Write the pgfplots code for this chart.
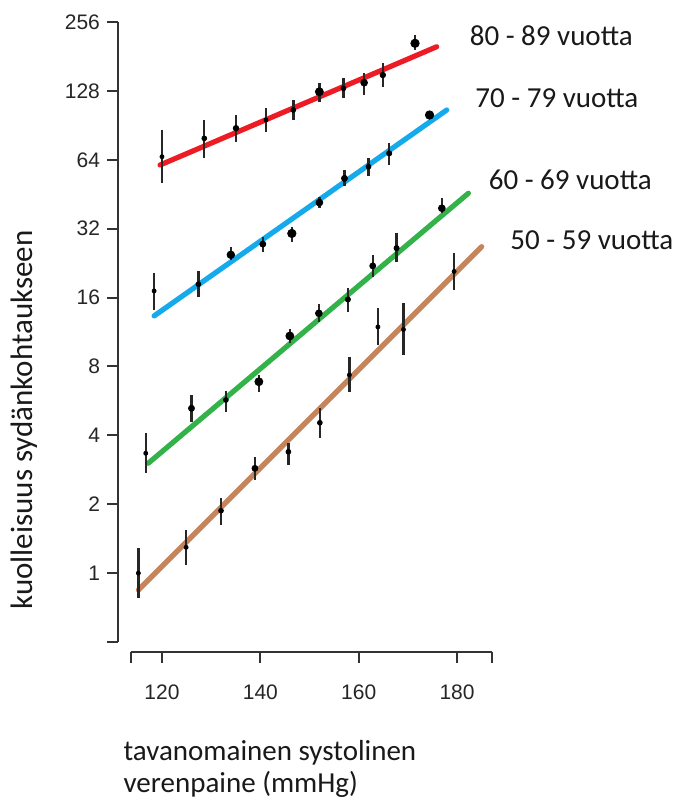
\documentclass[border=0pt]{standalone}
\usepackage{fontspec}
\setmainfont{Carlito}
\newfontfamily\tickfont{Liberation Sans}
\usepackage{pgfplots}
\usepackage{pgfplotstable}
\pgfplotsset{compat=1.18}
\definecolor{cred}{RGB}{237,28,36}
\definecolor{cblue}{RGB}{20,170,235}
\definecolor{cgreen}{RGB}{50,178,72}
\definecolor{cbrown}{RGB}{196,132,92}

% 80-89
\pgfplotstableread{
x y lo hi s
120.0 66.0 50.7 86.4 1.0
128.6 79.4 65.2 95.5 1.2
135.05 87.9 76.7 100.4 1.4
141.15 95.5 84.9 107.8 1.0
146.7 105.6 95.5 116.8 1.2
152.0 126.9 114.8 139.0 2.0
156.9 131.3 118.8 145.3 1.2
161.1 139.0 122.8 153.7 1.7
164.9 150.2 132.7 168.9 1.4
171.45 206.6 193.1 224.6 2.1
}\redtab
% 70-79
\pgfplotstableread{
x y lo hi s
118.4 17.1 14.1 20.4 1.0
127.4 18.3 16.1 20.8 1.2
134.0 24.6 23.3 26.7 1.9
140.5 27.4 25.4 29.5 1.5
146.4 30.5 28.1 32.6 2.1
152.0 41.6 39.3 44.2 1.7
157.1 53.1 49.2 57.8 1.5
162.0 59.7 54.4 64.9 1.2
166.2 68.3 60.7 76.1 1.3
174.4 100.4 97.0 104.0 2.1
}\bluetab
% 60-69
\pgfplotstableread{
x y lo hi s
116.7 3.34 2.73 4.08 1.0
126.0 5.25 4.59 6.00 1.5
133.0 5.71 5.07 6.27 1.2
139.7 6.86 6.20 7.34 2.0
146.0 10.87 10.1 11.7 2.0
151.9 13.65 12.5 15.0 1.7
157.8 15.7 13.9 17.6 1.3
162.85 22.0 19.7 24.6 1.5
167.7 26.3 22.9 30.5 1.3
176.9 39.3 37.4 43.4 1.7
}\greentab
% 50-59
\pgfplotstableread{
x y lo hi s
115.2 1.0 0.776 1.283 1.0
124.9 1.297 1.085 1.543 1.0
132.0 1.874 1.622 2.123 1.2
138.9 2.87 2.55 3.23 1.5
145.7 3.39 2.97 3.69 1.2
152.1 4.54 3.88 5.25 1.2
158.1 7.34 6.20 8.82 1.0
163.9 11.9 9.93 14.4 1.0
169.1 11.6 8.98 15.1 1.0
179.4 20.8 17.3 25.0 1.0
}\browntab

\pgfplotsset{
  pts/.style={only marks, mark=*, black, scatter,
    scatter/use mapped color={draw=black, fill=black},
    visualization depends on={\thisrow{s} \as \msize},
    scatter/@pre marker code/.append style={/tikz/mark size=\msize pt},
    error bars/.cd, y dir=both, y explicit,
    error bar style={line width=1.2pt, black!85},
    error mark=none},
  fit/.style={line width=2.6pt, line cap=round, no marks},
}

\begin{document}
\begin{tikzpicture}
\begin{axis}[
  scale only axis, width=180.5pt, height=310pt,
  xmin=113.7, xmax=187.1, ymin=0.5, ymax=256,
  ymode=log, log basis y=2,
  axis x line*=bottom, axis y line*=left,
  axis x line shift=5pt, axis y line shift=6.5pt,
  axis line style={-, line width=1pt, black!80},
  tick style={line width=1pt, black!80},
  tick align=outside, major tick length=5.5pt,
  xtick={120,140,160,180}, xticklabels={120,140,160,180},
  extra x ticks={113.7,187.1}, extra x tick labels={},
  ytick={0.5,1,2,4,8,16,32,64,128,256},
  yticklabels={,1,2,4,8,16,32,64,128,256},
  minor tick num=0,
  /pgf/number format/assume math mode=true,
  ticklabel style={font=\tickfont\fontsize{10.5}{12}\selectfont, text=black!85},
  xticklabel style={yshift=-7.5pt},
  clip=false,
]
\coordinate (O) at (axis cs:113.7,0.5);
\addplot[fit, cred] coordinates {(119.6,60.7) (175.87,199.7)};
\addplot[fit, cblue] coordinates {(118.4,13.3) (177.9,105.6)};
\addplot[fit, cgreen] coordinates {(117.2,3.02) (182.3,45.7)};
\addplot[fit, cbrown] coordinates {(115.2,0.844) (185.0,26.7)};
\addplot[pts] table[x=x, y=y, y error plus expr=\thisrow{hi}-\thisrow{y}, y error minus expr=\thisrow{y}-\thisrow{lo}] {\redtab};
\addplot[pts] table[x=x, y=y, y error plus expr=\thisrow{hi}-\thisrow{y}, y error minus expr=\thisrow{y}-\thisrow{lo}] {\bluetab};
\addplot[pts] table[x=x, y=y, y error plus expr=\thisrow{hi}-\thisrow{y}, y error minus expr=\thisrow{y}-\thisrow{lo}] {\greentab};
\addplot[pts] table[x=x, y=y, y error plus expr=\thisrow{hi}-\thisrow{y}, y error minus expr=\thisrow{y}-\thisrow{lo}] {\browntab};
\end{axis}
\begin{scope}[every node/.style={inner sep=0pt, text=black!90, font=\fontsize{14.5}{16}\selectfont}]
\node[anchor=base west] at ([shift={(169.2pt,298pt)}]O) {80 - 89 vuotta};
\node[anchor=base west] at ([shift={(172pt,267.4pt)}]O) {70 - 79 vuotta};
\node[anchor=base west] at ([shift={(178.7pt,226pt)}]O) {60 - 69 vuotta};
\node[anchor=base west] at ([shift={(189.5pt,196pt)}]O) {50 - 59 vuotta};
\node[anchor=base west] at ([shift={(-3.9pt,-59pt)}]O) {tavanomainen systolinen};
\node[anchor=base west] at ([shift={(-3.9pt,-75pt)}]O) {verenpaine (mmHg)};
\node[anchor=base, rotate=90, font=\fontsize{15.5}{18}\selectfont] at ([shift={(-49pt,111pt)}]O) {kuolleisuus sydänkohtaukseen};
\end{scope}
\pgfresetboundingbox
\path[use as bounding box] ([shift={(-65.5pt,-79.5pt)}]O) rectangle ([shift={(274pt,321pt)}]O);
\end{tikzpicture}
\end{document}
